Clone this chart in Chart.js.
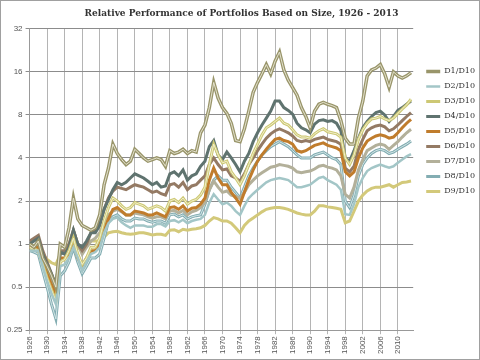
<!DOCTYPE html>
<html>
<head>
<meta charset="utf-8">
<script src="https://cdn.jsdelivr.net/npm/chart.js@4.4.0/dist/chart.umd.min.js"></script>
<style>
html, body { margin: 0; padding: 0; background: #fff; }
#wrap { width: 480px; height: 360px; position: relative; }
</style>
</head>
<body>
<div id="wrap"><canvas id="sizeChart"></canvas></div>
<script>
// ratio of decile portfolio to decile 10, one reading per year
const years = [];
for (let y = 1926; y <= 2013; y++) years.push(y);

const d1 = [1.0, 0.95, 1.05, 0.8, 0.7, 0.6, 0.5, 1.0, 0.95, 1.3,
  2.1, 1.5, 1.35, 1.3, 1.25, 1.3, 1.6, 2.6, 3.4, 5.0,
  4.3, 3.9, 3.6, 3.8, 4.6, 4.3, 4.0, 3.8, 3.9, 4.0,
  3.9, 3.5, 4.5, 4.3, 4.4, 4.6, 4.3, 4.5, 4.4, 6.0,
  6.8, 9.0, 13.5, 10.5, 9.0, 8.2, 7.0, 5.3, 5.2, 6.4,
  8.5, 11.5, 13.5, 15.5, 18.0, 15.5, 19.0, 22.0, 16.5, 14.0,
  12.4, 11.0, 9.0, 7.8, 6.5, 8.5, 9.5, 9.8, 9.5, 9.3,
  9.0, 7.3, 5.5, 5.0, 5.0, 7.6, 10.0, 15.0, 16.5, 17.0,
  18.0, 15.5, 12.5, 16.0, 15.0, 14.5, 15.0, 15.8];
const d2 = [0.9, 0.9, 0.9, 0.7, 0.55, 0.45, 0.38, 0.7, 0.72, 0.8,
  0.95, 0.8, 0.65, 0.75, 0.85, 0.88, 0.95, 1.2, 1.4, 1.5,
  1.53, 1.42, 1.35, 1.3, 1.35, 1.35, 1.35, 1.32, 1.32, 1.38,
  1.38, 1.33, 1.45, 1.47, 1.42, 1.48, 1.4, 1.45, 1.48, 1.5,
  1.6, 1.95, 2.23, 2.05, 1.9, 1.95, 1.85, 1.7, 1.6, 1.85,
  2.1, 2.25, 2.4, 2.55, 2.7, 2.8, 2.85, 2.9, 2.85, 2.8,
  2.65, 2.5, 2.5, 2.55, 2.6, 2.75, 2.9, 2.95, 2.8, 2.7,
  2.6, 2.4, 1.62, 1.6, 1.9, 2.5, 2.9, 3.24, 3.4, 3.5,
  3.6, 3.5, 3.42, 3.5, 3.7, 3.9, 4.1, 4.25];
const d3 = [0.95, 0.92, 0.9, 0.72, 0.58, 0.48, 0.4, 0.75, 0.78, 0.9,
  1.1, 0.85, 0.72, 0.8, 0.95, 0.95, 1.1, 1.45, 1.8, 2.1,
  2.0, 1.85, 1.75, 1.8, 1.95, 1.9, 1.85, 1.75, 1.8, 1.85,
  1.8, 1.7, 2.0, 2.05, 1.95, 2.1, 1.9, 2.0, 2.05, 2.2,
  2.5, 3.6, 5.0, 4.2, 3.7, 3.8, 3.2, 2.9, 2.6, 3.0,
  3.6, 4.3, 5.0, 5.8, 6.5, 6.8, 7.2, 7.6, 7.0, 6.8,
  6.3, 5.8, 5.6, 5.6, 5.5, 5.9, 6.2, 6.4, 6.1, 6.0,
  5.9, 5.6, 4.0, 3.6, 4.2, 5.4, 6.3, 7.0, 7.5, 7.6,
  7.8, 7.5, 7.3, 7.6, 8.2, 8.8, 9.4, 10.3];
const d4 = [1.0, 1.05, 1.1, 0.85, 0.72, 0.62, 0.52, 0.88, 0.85, 0.95,
  1.25, 1.0, 0.95, 1.05, 1.2, 1.2, 1.35, 1.75, 2.05, 2.4,
  2.7, 2.6, 2.7, 2.9, 3.1, 3.0, 2.9, 2.75, 2.6, 2.7,
  2.5, 2.55, 3.1, 3.2, 3.0, 3.3, 2.8, 3.0, 3.1, 3.5,
  3.8, 4.8, 5.3, 4.2, 3.9, 4.4, 4.0, 3.6, 3.2, 3.8,
  4.3, 5.2, 6.0, 6.8, 7.6, 8.5, 10.0, 10.0, 9.0, 8.6,
  8.1, 7.0, 6.5, 6.3, 6.0, 6.9, 7.3, 7.4, 7.2, 7.3,
  7.0, 6.2, 4.0, 3.8, 4.5, 5.5, 6.5, 7.2, 7.8, 8.3,
  8.5, 8.0, 7.2, 7.8, 8.6, 9.0, 9.5, 10.0];
const d5 = [0.95, 0.95, 0.95, 0.75, 0.62, 0.52, 0.45, 0.8, 0.8, 0.85,
  1.0, 0.8, 0.7, 0.8, 0.9, 0.9, 1.0, 1.25, 1.5, 1.75,
  1.8, 1.7, 1.6, 1.6, 1.7, 1.68, 1.65, 1.6, 1.6, 1.65,
  1.6, 1.55, 1.8, 1.82, 1.75, 1.85, 1.7, 1.78, 1.8, 1.9,
  2.1, 2.8, 3.4, 2.9, 2.6, 2.6, 2.3, 2.1, 1.9, 2.3,
  2.8, 3.3, 3.8, 4.2, 4.6, 5.0, 5.4, 5.5, 5.3, 5.2,
  5.0, 4.5, 4.4, 4.5, 4.7, 4.9, 5.0, 5.1, 4.9, 4.8,
  4.7, 4.5, 3.2, 3.0, 3.2, 4.0, 4.7, 5.25, 5.5, 5.7,
  5.8, 5.7, 5.5, 5.6, 6.0, 6.5, 7.0, 7.45];
const d6 = [1.05, 1.1, 1.15, 0.9, 0.75, 0.62, 0.5, 0.9, 0.9, 1.0,
  1.25, 1.0, 0.9, 1.0, 1.2, 1.25, 1.4, 1.75, 2.1, 2.35,
  2.5, 2.45, 2.4, 2.5, 2.6, 2.55, 2.5, 2.4, 2.3, 2.35,
  2.25, 2.2, 2.6, 2.65, 2.5, 2.7, 2.4, 2.55, 2.6, 2.8,
  3.0, 3.6, 4.0, 3.6, 3.3, 3.35, 3.0, 2.9, 2.75, 3.1,
  3.6, 4.0, 4.5, 5.0, 5.5, 5.9, 6.2, 6.4, 6.2, 6.0,
  5.7, 5.3, 5.2, 5.3, 5.2, 5.4, 5.5, 5.6, 5.4, 5.3,
  5.2, 5.0, 3.4, 3.2, 3.5, 4.6, 5.4, 6.2, 6.5, 6.7,
  6.8, 6.6, 6.2, 6.4, 6.8, 7.3, 7.8, 8.3];
const d7 = [0.95, 0.97, 1.0, 0.8, 0.65, 0.55, 0.48, 0.85, 0.88, 1.0,
  1.25, 1.0, 0.85, 0.95, 1.05, 1.1, 1.2, 1.4, 1.6, 1.7,
  1.75, 1.68, 1.6, 1.6, 1.65, 1.62, 1.6, 1.55, 1.52, 1.55,
  1.55, 1.5, 1.7, 1.72, 1.65, 1.72, 1.6, 1.68, 1.72, 1.8,
  1.95, 2.4, 2.76, 2.5, 2.3, 2.35, 2.2, 2.15, 2.1, 2.3,
  2.6, 2.8, 3.0, 3.15, 3.3, 3.45, 3.5, 3.6, 3.55, 3.5,
  3.4, 3.2, 3.15, 3.2, 3.24, 3.35, 3.5, 3.55, 3.45, 3.4,
  3.3, 3.0, 2.23, 2.1, 2.5, 3.3, 3.9, 4.5, 4.7, 4.9,
  5.0, 4.9, 4.6, 4.9, 5.2, 5.6, 6.0, 6.35];
const d8 = [0.9, 0.88, 0.85, 0.65, 0.5, 0.38, 0.3, 0.6, 0.65, 0.75,
  0.95, 0.75, 0.62, 0.7, 0.8, 0.8, 0.85, 1.1, 1.45, 1.55,
  1.6, 1.5, 1.45, 1.45, 1.52, 1.5, 1.5, 1.45, 1.42, 1.45,
  1.45, 1.4, 1.6, 1.62, 1.55, 1.6, 1.5, 1.55, 1.58, 1.6,
  1.9, 2.4, 2.8, 3.0, 2.8, 2.8, 2.5, 2.3, 2.1, 2.5,
  3.0, 3.4, 3.8, 4.2, 4.5, 4.8, 5.0, 5.2, 5.0, 4.8,
  4.5, 4.2, 4.0, 4.0, 4.0, 4.2, 4.3, 4.4, 4.2, 4.0,
  3.9, 3.6, 2.0, 1.8, 2.2, 3.0, 3.6, 4.0, 4.3, 4.5,
  4.6, 4.5, 4.3, 4.4, 4.6, 4.8, 5.0, 5.25];
const d9 = [1.0, 0.97, 0.95, 0.85, 0.78, 0.74, 0.72, 0.85, 0.88, 0.95,
  1.05, 0.95, 0.9, 0.98, 1.05, 1.05, 1.05, 1.12, 1.2, 1.22,
  1.23, 1.2, 1.18, 1.17, 1.18, 1.2, 1.2, 1.18, 1.16, 1.17,
  1.17, 1.15, 1.25, 1.26, 1.22, 1.27, 1.25, 1.27, 1.28, 1.3,
  1.35, 1.45, 1.53, 1.5, 1.45, 1.45, 1.4, 1.3, 1.2, 1.35,
  1.45, 1.52, 1.6, 1.68, 1.75, 1.78, 1.8, 1.8, 1.78, 1.75,
  1.7, 1.65, 1.62, 1.6, 1.6, 1.7, 1.85, 1.85, 1.82, 1.8,
  1.78, 1.75, 1.41, 1.45, 1.7, 2.0, 2.2, 2.35, 2.45, 2.5,
  2.5, 2.55, 2.6, 2.5, 2.6, 2.7, 2.72, 2.76];

const seriesNames = ['D1/D10', 'D2/D10', 'D3/D10', 'D4/D10', 'D5/D10', 'D6/D10', 'D7/D10', 'D8/D10', 'D9/D10'];
const yTicks = [0.25, 0.5, 1, 2, 4, 8, 16, 32];
const xTicks = [1926, 1930, 1934, 1938, 1942, 1946, 1950, 1954, 1958, 1962, 1966, 1970, 1974, 1978, 1982, 1986, 1990, 1994, 1998, 2002, 2006, 2010];

function pts(vals) {
  return vals.map((v, i) => ({ x: years[i], y: v }));
}

function line(label, vals, color, width) {
  return {
    label: label,
    data: pts(vals),
    borderColor: color,
    backgroundColor: color,
    borderWidth: width,
    pointRadius: 0,
    tension: 0
  };
}

// double lines: a light inner stroke drawn over the outer one
const datasets = [
  line('_in1', d1, '#e4e2cf', 1),
  line(seriesNames[0], d1, '#99956a', 3.5),
  line(seriesNames[1], d2, '#a3c6c7', 2.5),
  line('_in3', d3, '#f1efcc', 1),
  line(seriesNames[2], d3, '#cdc874', 3),
  line(seriesNames[3], d4, '#5f736f', 3),
  line(seriesNames[4], d5, '#c07c2c', 3),
  line(seriesNames[5], d6, '#947a64', 3),
  line(seriesNames[6], d7, '#b3b09a', 3),
  line('_in8', d8, '#d3e5e6', 1),
  line(seriesNames[7], d8, '#83adb2', 3),
  line(seriesNames[8], d9, '#d3c97a', 3)
];

const frame = {
  id: 'frame',
  beforeDraw(chart) {
    const c = chart.ctx;
    c.save();
    c.fillStyle = '#fff';
    c.fillRect(0, 0, chart.width, chart.height);
    c.strokeStyle = '#a0a0a0';
    c.lineWidth = 1;
    c.strokeRect(0.5, 0.5, chart.width - 1, chart.height - 1);
    c.restore();
  }
};

// nudge the legend a few px right, away from the plot
const legendShift = {
  id: 'legendShift',
  afterLayout(chart) {
    if (chart.legend) {
      chart.legend.left += 6;
      chart.legend.right += 6;
    }
  }
};

new Chart(document.getElementById('sizeChart'), {
  type: 'line',
  data: { datasets: datasets },
  plugins: [frame, legendShift],
  options: {
    responsive: true,
    maintainAspectRatio: false,
    animation: false,
    layout: { padding: { left: 4, right: 1, top: 0, bottom: 4 } },
    scales: {
      x: {
        type: 'linear',
        min: 1926,
        max: 2013.5,
        afterBuildTicks: axis => { axis.ticks = xTicks.map(v => ({ value: v })); },
        ticks: {
          minRotation: 90,
          maxRotation: 90,
          color: '#555',
          font: { family: 'Liberation Sans', size: 8 },
          padding: 2,
          callback: v => String(v)
        },
        grid: { color: '#b4b4b4', tickLength: 4 },
        border: { color: '#999' }
      },
      y: {
        type: 'logarithmic',
        min: 0.25,
        max: 32,
        afterBuildTicks: axis => { axis.ticks = yTicks.map(v => ({ value: v })); },
        ticks: {
          color: '#555',
          font: { family: 'Liberation Sans', size: 8 },
          padding: 3,
          callback: v => String(v)
        },
        grid: { color: '#8c8c8c', tickLength: 4 },
        border: { color: '#999' }
      }
    },
    plugins: {
      title: {
        display: true,
        text: 'Relative Performance of Portfolios Based on Size, 1926 - 2013',
        color: '#333',
        font: { family: 'DejaVu Serif', size: 9, weight: 'bold' },
        padding: { top: 8, bottom: 10 }
      },
      legend: {
        position: 'right',
        align: 'start',
        title: { display: true, text: ' ', padding: { top: 46 } },
        labels: {
          filter: item => !item.text.startsWith('_'),
          usePointStyle: true,
          pointStyle: 'line',
          pointStyleWidth: 14,
          boxHeight: 3,
          padding: 7,
          color: '#333',
          font: { family: 'DejaVu Serif', size: 8 }
        }
      },
      tooltip: { enabled: false }
    }
  }
});
</script>
</body>
</html>
